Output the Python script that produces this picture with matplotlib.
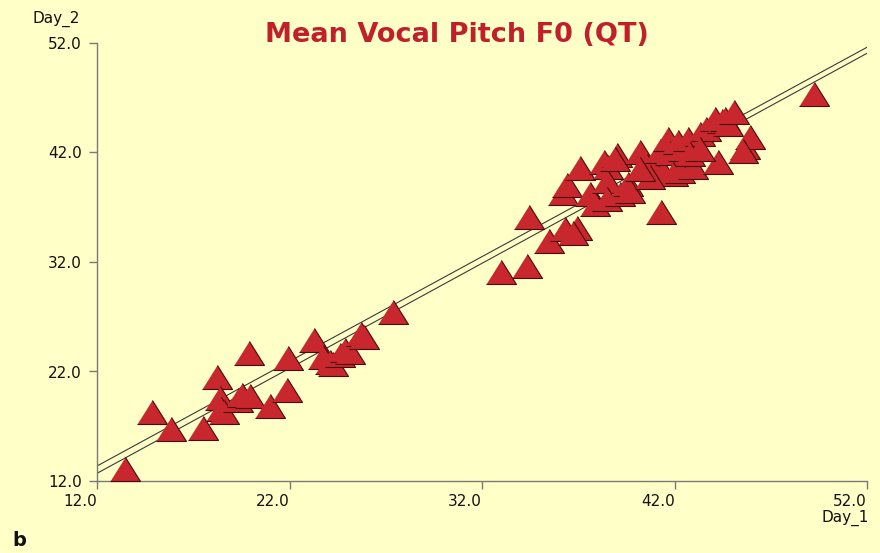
"""
Mean vocal pitch F0 (QT): Day_1 vs Day_2 scatter with two fitted lines
"""

import matplotlib.pyplot as plt

# ============ Data ============
day_1 = [
    13.45, 14.86, 15.84, 17.51, 18.23, 18.39, 18.44, 18.60, 19.32, 19.53,
    19.95, 19.90, 20.99, 21.87, 21.92, 23.27, 23.74, 24.10, 24.26, 24.62,
    24.88, 25.14, 25.71, 25.87, 27.38, 32.99, 34.34, 34.44, 35.48, 36.31,
    36.94, 36.73, 36.21, 36.42, 37.09, 37.61, 37.87, 38.34, 38.55, 38.49,
    38.49, 39.01, 39.17, 39.58, 39.69, 38.91, 40.21, 40.57, 40.88, 41.25,
    41.30, 41.40, 41.66, 41.77, 41.92, 42.18, 42.29, 42.44, 42.70, 42.96,
    43.32, 43.64, 44.10, 44.26, 44.47, 44.62, 44.78, 45.09, 45.66, 45.92,
    45.56, 49.25, 40.73, 42.81, 43.32, 40.21,
]
day_2 = [
    13.09, 18.30, 16.76, 16.85, 21.52, 19.59, 18.58, 18.30, 19.41, 19.87,
    19.78, 23.71, 18.86, 20.32, 23.26, 24.90, 23.35, 22.89, 22.71, 23.53,
    23.99, 23.80, 25.45, 25.18, 27.47, 31.13, 31.59, 36.07, 33.96, 34.97,
    35.15, 34.61, 38.27, 38.99, 40.55, 38.17, 37.26, 41.10, 40.64, 39.36,
    37.72, 41.75, 38.17, 39.08, 38.45, 41.38, 42.02, 40.73, 40.46, 42.11,
    36.53, 40.18, 43.21, 41.93, 40.00, 42.94, 40.27, 42.30, 43.21, 40.64,
    43.67, 44.13, 45.05, 41.10, 44.86, 45.05, 44.59, 45.69, 42.48, 43.40,
    42.11, 47.33, 39.73, 41.84, 42.30, 40.46,
]

# fitted lines, value at Day_1 = 12 and Day_1 = 52
fit_x = [12.0, 52.0]
fit_a = [13.37, 51.61]
fit_b = [12.70, 51.06]

ticks = [12.0, 22.0, 32.0, 42.0, 52.0]

BG = '#ffffc8'
FILL = '#c8272e'
EDGE = '#4a0a0a'
TITLE_RED = '#c0202a'
AXIS_GREY = '#7a7a7a'

# ============ Plot ============
fig = plt.figure(figsize=(8.8, 5.53), dpi=100, facecolor=BG)
ax = fig.add_axes([97 / 880, 1 - 481 / 553, 770 / 880, 438 / 553])
ax.set_facecolor(BG)

ax.set_xlim(12, 52)
ax.set_ylim(12, 52)

for yv in (fit_a, fit_b):
    ax.plot(fit_x, yv, color='#3a3a3a', linewidth=0.8, zorder=2)

# slightly flattened triangle
tri = [(-1, -0.8), (1, -0.8), (0, 0.8)]
ax.scatter(day_1, day_2, marker=tri, s=21.6 ** 2, facecolor=FILL,
           edgecolor=EDGE, linewidth=0.8, zorder=3, clip_on=False)

for side in ('top', 'right'):
    ax.spines[side].set_visible(False)
for side in ('left', 'bottom'):
    ax.spines[side].set_color(AXIS_GREY)
    ax.spines[side].set_linewidth(1.0)

ax.set_xticks(ticks)
ax.set_yticks(ticks)
ax.set_xticklabels([f'{t:.1f}' for t in ticks], ha='right')
ax.set_yticklabels([f'{t:.1f}' for t in ticks])
ax.tick_params(axis='both', direction='out', length=6, width=1.0,
               color=AXIS_GREY, labelsize=11, labelcolor='#111111')
ax.tick_params(axis='x', pad=3.5)
ax.tick_params(axis='y', pad=5)

fig.text(0.519, 0.937, 'Mean Vocal Pitch F0 (QT)', ha='center', va='center',
         fontsize=19.5, fontweight='bold', color=TITLE_RED)
fig.text(80 / 880, 1 - 19 / 553, 'Day_2', ha='right', va='center',
         fontsize=11, color='#111111')
fig.text(869 / 880, 1 - 518 / 553, 'Day_1', ha='right', va='center',
         fontsize=11, color='#111111')
fig.text(12 / 880, 1 - 541 / 553, 'b', ha='left', va='center',
         fontsize=14, fontweight='bold', color='#111111')

fig.savefig('out.png', dpi=100, facecolor=BG)
